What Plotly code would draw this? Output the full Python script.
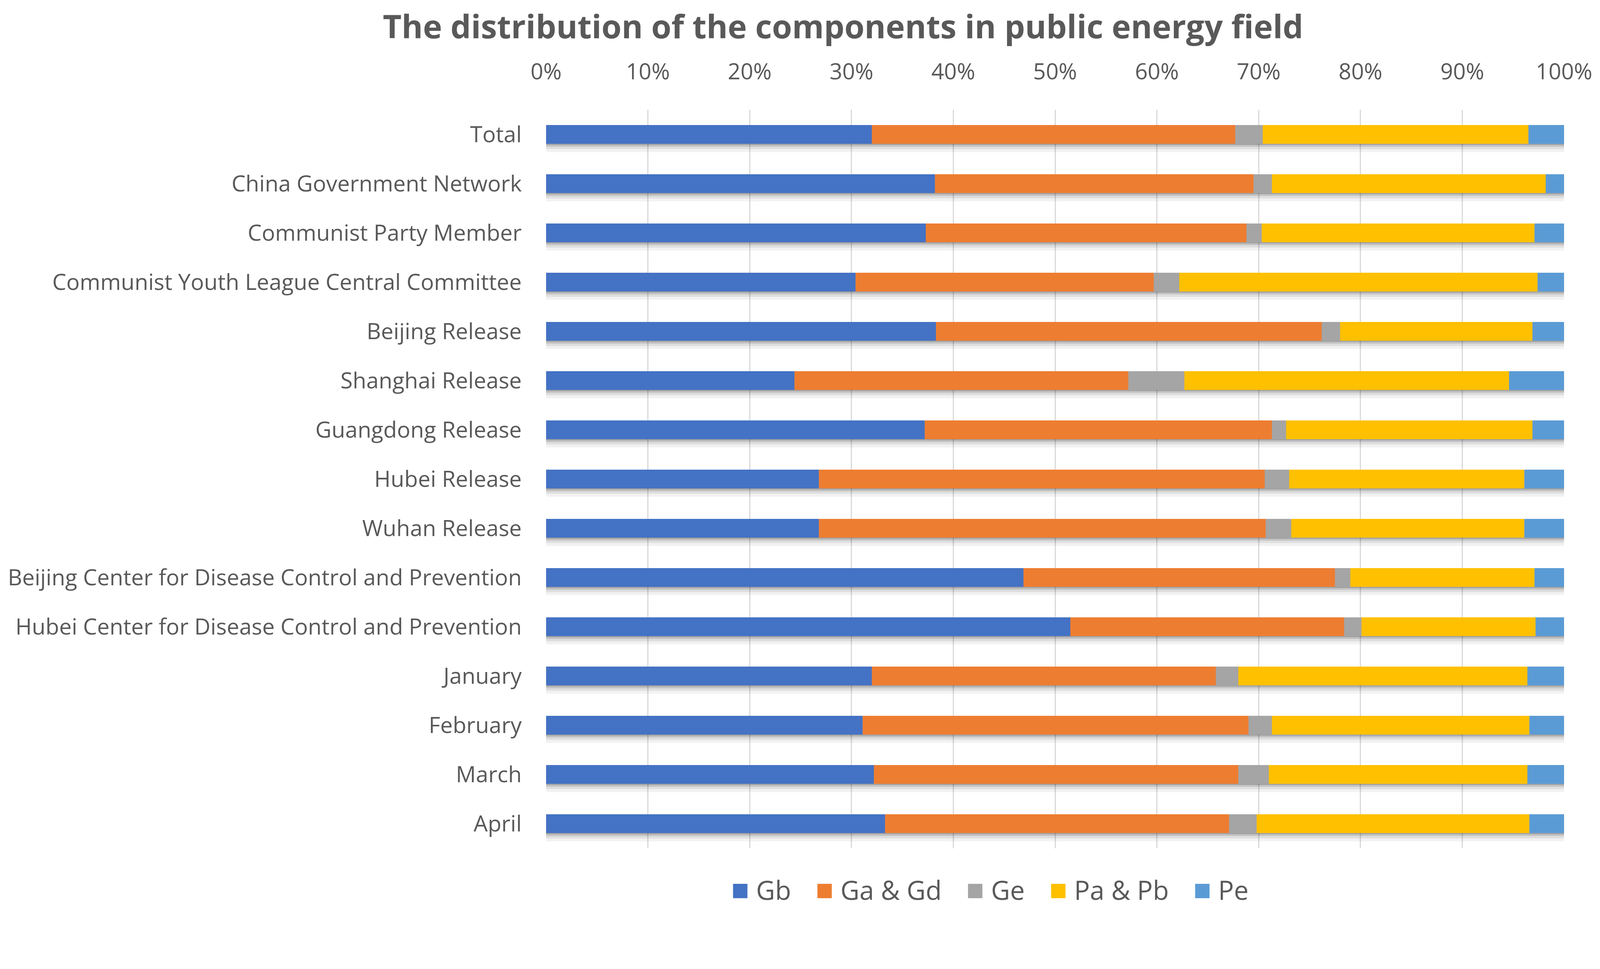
import plotly.graph_objects as go

# Sources / periods, top to bottom
categories = [
    'Total',
    'China Government Network',
    'Communist Party Member',
    'Communist Youth League Central Committee',
    'Beijing Release',
    'Shanghai Release',
    'Guangdong Release',
    'Hubei Release',
    'Wuhan Release',
    'Beijing Center for Disease Control and Prevention',
    'Hubei Center for Disease Control and Prevention',
    'January',
    'February',
    'March',
    'April',
]

# share of each component (%)
gb = [32.0, 38.2, 37.3, 30.4, 38.3, 24.4, 37.2, 26.8, 26.8, 46.9, 51.5, 32.0, 31.1, 32.2, 33.3]
ga_gd = [35.7, 31.3, 31.5, 29.3, 37.9, 32.8, 34.1, 43.8, 43.9, 30.6, 26.9, 33.8, 37.9, 35.8, 33.8]
ge = [2.7, 1.8, 1.5, 2.5, 1.8, 5.5, 1.4, 2.4, 2.5, 1.5, 1.7, 2.2, 2.3, 3.0, 2.7]
pa_pb = [26.1, 26.9, 26.8, 35.2, 18.9, 31.9, 24.2, 23.1, 22.9, 18.1, 17.1, 28.4, 25.3, 25.4, 26.8]
pe = [3.5, 1.8, 2.9, 2.6, 3.1, 5.4, 3.1, 3.9, 3.9, 2.9, 2.8, 3.6, 3.4, 3.6, 3.4]

series_names = ['Gb', 'Ga & Gd', 'Ge', 'Pa & Pb', 'Pe']
series_values = [gb, ga_gd, ge, pa_pb, pe]
series_colors = ['#4472C4', '#ED7D31', '#A5A5A5', '#FFC000', '#5B9BD5']

text_color = '#595959'
font_family = 'Open Sans, Noto Sans, sans-serif'
bar_width = 0.38

fig = go.Figure()

# soft drop shadow under each bar (Excel style), a few translucent layers
totals = [sum(v) for v in zip(*series_values)]
for depth, alpha in [(0.36, 0.05), (0.30, 0.08), (0.25, 0.12), (0.215, 0.16)]:
    fig.add_trace(go.Bar(
        y=categories, x=totals, base=0, orientation='h',
        width=depth + 0.17, offset=-0.17,
        marker=dict(color='rgba(0,0,0,%s)' % alpha, line=dict(width=0)),
        showlegend=False, hoverinfo='skip',
    ))

# the stacked segments, drawn with explicit bases
base = [0.0] * len(categories)
for name, vals, color in zip(series_names, series_values, series_colors):
    fig.add_trace(go.Bar(
        y=categories, x=vals, base=list(base), orientation='h', name=name,
        width=bar_width, offset=-bar_width / 2,
        marker=dict(color=color, line=dict(width=0)),
        showlegend=False,
    ))
    base = [b + v for b, v in zip(base, vals)]

# legend entries with big square swatches
for name, color in zip(series_names, series_colors):
    fig.add_trace(go.Scatter(
        x=[None], y=[None], mode='lines', line=dict(width=0),
        name='<span style="color:%s;font-size:76px">\u25A0</span> %s' % (color, name),
        hoverinfo='skip',
    ))

fig.update_layout(
    barmode='overlay',
    width=4080, height=2331,
    paper_bgcolor='white', plot_bgcolor='white',
    font=dict(family=font_family, color=text_color, size=57),
    title=dict(
        text='<b>The distribution of the components in public energy field</b>',
        x=0.527, xanchor='center', y=0.974, yanchor='middle',
        font=dict(size=83, color=text_color),
    ),
    margin=dict(l=1380, r=75, t=273, b=137),
    legend=dict(
        orientation='h', x=0.426, xanchor='center', y=-0.056, yanchor='middle',
        font=dict(size=67, color=text_color), traceorder='normal',
        itemwidth=48,
    ),
)

fig.update_xaxes(
    side='top', range=[0, 100], dtick=10, ticksuffix='%',
    showgrid=True, gridcolor='#D9D9D9', gridwidth=3,
    zeroline=False, showline=False,
    ticks='outside', ticklen=54, tickcolor='rgba(0,0,0,0)',
    tickfont=dict(size=57, color=text_color),
)
fig.update_yaxes(
    type='category', range=[len(categories) - 0.5, -0.5],
    showgrid=False, showline=False, zeroline=False,
    ticks='outside', ticklen=50, tickcolor='rgba(0,0,0,0)',
    tickfont=dict(size=57, color=text_color),
)

fig.write_html('out.html')
